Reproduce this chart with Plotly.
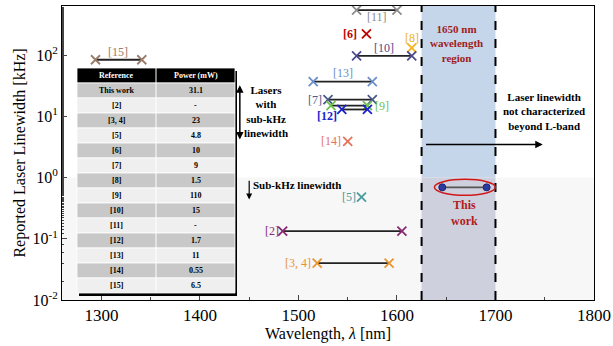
import plotly.graph_objects as go

# ---------------- data ----------------
refs = ["[11]", "[6]", "[8]", "[10]", "[13]", "[7]", "[9]", "[12]", "[14]", "[5]", "[2]", "[3, 4]", "[15]"]
wl_start = [1559, 1569, 1615, 1559, 1515, 1530, 1533, 1544, 1550, 1564, 1484, 1519, 1294]
wl_end = [1600, None, None, 1615, 1575, 1575, 1570, 1570, None, None, 1605, 1592, 1341]
linewidth_khz = [540, 221, 131, 97, 36.7, 18.7, 14.9, 12.9, 3.9, 0.48, 0.133, 0.040, 83.6]
colors = ["#8c8c8c", "#c00000", "#f2b320", "#4b4b8c", "#6b8fc9", "#4a5a8a", "#6cc24f",
          "#1c22cc", "#e4735a", "#4a9a9a", "#8a2a72", "#e8952f", "#9a7b6a"]

this_work_wl = [1646, 1691]
this_work_lw = [0.69, 0.69]

table_header = ["Reference", "Power (mW)"]
table_refs = ["This work", "[2]", "[3, 4]", "[5]", "[6]", "[7]", "[8]", "[9]", "[10]",
              "[11]", "[12]", "[13]", "[14]", "[15]"]
table_power = ["31.1", "-", "23", "4.8", "10", "9", "1.5", "110", "15", "-", "1.7", "11", "0.55", "6.5"]

x_ticks = [1300, 1400, 1500, 1600, 1700, 1800]
y_ticks = [0.01, 0.1, 1, 10, 100]
y_tick_text = ["10<sup>-2</sup>", "10<sup>-1</sup>", "10<sup>0</sup>", "10<sup>1</sup>", "10<sup>2</sup>"]

FONT = "Liberation Serif"

# plot area in pixels (for converting the table/paper positions)
L, R, T, B = 62, 594, 6, 300
def px(x):
    return (x - L) / (R - L)
def py(y):
    return (B - y) / (B - T)

fig = go.Figure()

# reference lasers
for r, x0, x1, y, c in zip(refs, wl_start, wl_end, linewidth_khz, colors):
    xs = [x0] if x1 is None else [x0, x1]
    fig.add_trace(go.Scatter(
        x=xs, y=[y] * len(xs), mode="lines+markers",
        line=dict(color="#222222", width=1.8),
        marker=dict(symbol="x-thin", size=9, line=dict(color=c, width=1.8)),
        showlegend=False, hoverinfo="skip"))

# this work
fig.add_trace(go.Scatter(
    x=this_work_wl, y=this_work_lw, mode="lines+markers",
    line=dict(color="#555555", width=1.8),
    marker=dict(symbol="circle", size=7, color="#2b3a9c", line=dict(color="#1a2470", width=1)),
    showlegend=False, hoverinfo="skip"))

shapes = [
    # sub-kHz gray background
    dict(type="rect", xref="x", yref="y", x0=1260, x1=1800, y0=0.01, y1=1,
         fillcolor="#f7f7f7", line_width=0, layer="below"),
    # 1650 nm region
    dict(type="rect", xref="x", yref="y", x0=1625, x1=1700, y0=1, y1=10 ** 2.8,
         fillcolor="#c5d5ea", line_width=0, layer="below"),
    dict(type="rect", xref="x", yref="y", x0=1625, x1=1700, y0=0.01, y1=1,
         fillcolor="#cfd0de", line_width=0, layer="below"),
    dict(type="line", xref="x", yref="paper", x0=1625, x1=1625, y0=0, y1=1,
         line=dict(color="black", width=2, dash="dash")),
    dict(type="line", xref="x", yref="paper", x0=1700, x1=1700, y0=0, y1=1,
         line=dict(color="black", width=2, dash="dash")),
    # ellipse around this work
    dict(type="circle", xref="x", yref="y", x0=1638, x1=1700, y0=10 ** -0.29, y1=10 ** -0.03,
         line=dict(color="#d01818", width=1.5)),
]

ann = []

# ---- table built from the arrays (shapes + text) ----
tx0, tx1, tdiv = 77, 235, 156
ty0, row_h = 68, 15
nrows = len(table_refs) + 1
# shadow
shapes.append(dict(type="rect", xref="paper", yref="paper", x0=px(tx0 + 2), x1=px(tx1 + 2),
                   y0=py(ty0 + nrows * row_h + 3), y1=py(ty0 + 3),
                   fillcolor="black", line_width=0))
for i in range(nrows):
    y_top = ty0 + i * row_h
    if i == 0:
        fc = "black"
    else:
        fc = "#c8c8c8" if (i - 1) % 2 == 0 else "#efefef"
    shapes.append(dict(type="rect", xref="paper", yref="paper", x0=px(tx0), x1=px(tx1),
                       y0=py(y_top + row_h), y1=py(y_top), fillcolor=fc,
                       line=dict(color="white", width=0.8)))
    if i == 0:
        texts, tc = table_header, "white"
    else:
        texts, tc = [table_refs[i - 1], table_power[i - 1]], "black"
    for cx, t in zip([(tx0 + tdiv) / 2, (tdiv + tx1) / 2], texts):
        ann.append(dict(x=px(cx), y=py(y_top + row_h / 2), xref="paper", yref="paper",
                        text="<b>%s</b>" % t, showarrow=False, xanchor="center", yanchor="middle",
                        font=dict(family=FONT, size=8, color=tc)))
# column divider
shapes.append(dict(type="line", xref="paper", yref="paper", x0=px(tdiv), x1=px(tdiv),
                   y0=py(ty0 + nrows * row_h), y1=py(ty0), line=dict(color="white", width=1)))


def lab(text, x, ly, color, xanchor="center", size=11, bold=False):
    ann.append(dict(x=x, y=ly, xref="x", yref="y", text=("<b>%s</b>" % text) if bold else text,
                    showarrow=False, xanchor=xanchor, yanchor="middle",
                    font=dict(family=FONT, size=size, color=color)))

lab("[11]", 1580, 2.62, colors[0], size=12)
lab("[6]", 1561, 2.345, colors[1], "right", size=12, bold=True)
lab("[8]", 1615, 2.28, colors[2], size=12)
lab("[10]", 1587, 2.12, colors[3], size=12)
lab("[13]", 1545, 1.70, colors[4], size=12)
lab("[7]", 1526, 1.27, colors[5], "right", size=12)
lab("[9]", 1576, 1.17, colors[6], "left", size=12)
lab("[12]", 1529, 1.01, colors[7], size=12, bold=True)
lab("[14]", 1545, 0.59, colors[8], "right", size=12)
lab("[5]", 1560, -0.32, colors[9], "right", size=12)
lab("[2]", 1482, -0.875, colors[10], "right", size=12)
lab("[3, 4]", 1515, -1.395, colors[11], "right", size=12)
lab("[15]", 1317, 2.05, colors[12], size=12)
lab("This<br>work", 1669, -0.58, "#b01c1c", bold=True, size=12)
lab("1650 nm<br>wavelength<br>region", 1632, 2.18, "#a01c1c", "left", bold=True, size=11)
lab("Laser linewidth<br>not characterized<br>beyond L-band", 1706, 1.08, "black", "left", bold=True, size=11)
lab("Lasers<br>with<br>sub-kHz<br>linewidth", 1443, 1.08, "black", "left", bold=True, size=11)
lab("Sub-kHz linewidth", 1452, -0.12, "black", "left", bold=True, size=11)

# arrows
ann.append(dict(x=1748, y=0.54, ax=1628, ay=0.54, xref="x", yref="y", axref="x", ayref="y",
                showarrow=True, arrowhead=2, arrowsize=1, arrowwidth=1.5, arrowcolor="black", text=""))
ann.append(dict(x=1440.5, y=0.62, ax=1440.5, ay=1.53, xref="x", yref="y", axref="x", ayref="y",
                showarrow=True, arrowhead=2, arrowside="end+start", arrowsize=1, arrowwidth=1.5,
                arrowcolor="black", text=""))
ann.append(dict(x=1450, y=-0.36, ax=1450, ay=-0.03, xref="x", yref="y", axref="x", ayref="y",
                showarrow=True, arrowhead=2, arrowsize=1, arrowwidth=1.2, arrowcolor="black", text=""))

fig.update_layout(
    width=613, height=346,
    margin=dict(l=L, r=613 - R, t=T, b=346 - B),
    paper_bgcolor="white", plot_bgcolor="white",
    font=dict(family=FONT, size=16, color="black"),
    shapes=shapes, annotations=ann,
)
fig.update_xaxes(range=[1260, 1800], tickvals=x_ticks, automargin=False,
                 ticks="inside", ticklen=5, showline=True, linecolor="black", linewidth=1,
                 mirror=True, showgrid=False, zeroline=False,
                 minor=dict(tickvals=[1350, 1450, 1550, 1650, 1750], ticks="inside", ticklen=3),
                 title=dict(text="Wavelength, <i>λ</i> [nm]", font=dict(size=16), standoff=2),
                 tickfont=dict(size=17))
fig.update_yaxes(type="log", range=[-2, 2.8], tickvals=y_ticks, ticktext=y_tick_text, automargin=False,
                 ticks="inside", ticklen=5, showline=True, linecolor="black", linewidth=1,
                 mirror=True, showgrid=False, zeroline=False,
                 minor=dict(ticks="inside", ticklen=2, showgrid=False),
                 title=dict(text="Reported Laser Linewidth [kHz]", font=dict(size=16), standoff=2),
                 tickfont=dict(size=16))

fig.write_html("out.html", config={"displayModeBar": False},
               post_script="document.body.style.margin='0';")
